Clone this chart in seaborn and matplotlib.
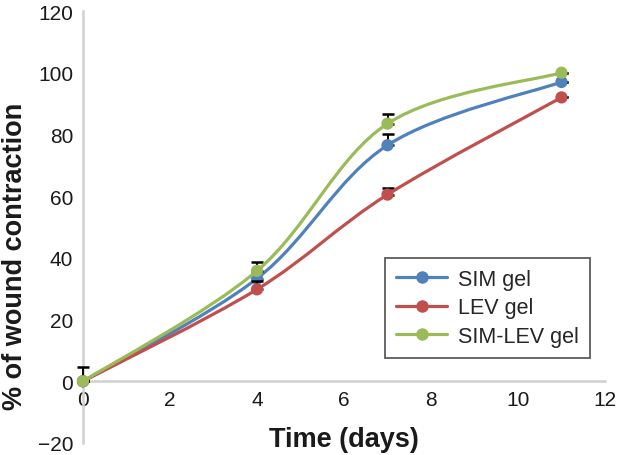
import numpy as np
import pandas as pd
import matplotlib
matplotlib.use("Agg")
import matplotlib.pyplot as plt
import seaborn as sns
from matplotlib.path import Path
from matplotlib.patches import PathPatch
from matplotlib.lines import Line2D

# ---- data ----
days = [0, 4, 7, 11]
sim_gel = [0, 33.3, 76.5, 97]
lev_gel = [0, 29.8, 60.5, 92]
simlev_gel = [0, 35.8, 83.5, 100]
sim_err = [0, 2.0, 3.5, 0]
lev_err = [0, 2.8, 2.0, 0]
simlev_err = [4.5, 2.7, 3.0, 0]
series_names = ["SIM gel", "LEV gel", "SIM-LEV gel"]
colors = ["#4F81BD", "#C0504D", "#9BBB59"]
x_ticks = [0, 2, 4, 6, 8, 10, 12]
y_ticks = [-20, 0, 20, 40, 60, 80, 100, 120]

sns.set_theme(style="white")
plt.rcParams['font.family'] = ['Liberation Sans', 'DejaVu Sans']

fig = plt.figure(figsize=(6.18, 4.56), dpi=100)
ax = fig.add_axes([83/618, 12/456, 522/618, 432/456])


def smooth_path(xs, ys):
    pts = np.column_stack([xs, ys]).astype(float)
    n = len(pts)
    verts = [pts[0]]
    codes = [Path.MOVETO]
    for i in range(n - 1):
        p0 = pts[i - 1] if i > 0 else pts[i]
        p1 = pts[i]
        p2 = pts[i + 1]
        p3 = pts[i + 2] if i + 2 < n else pts[i + 1]
        c1 = p1 + (p2 - p0) / 6.0
        c2 = p2 - (p3 - p1) / 6.0
        verts += [c1, c2, p2]
        codes += [Path.CURVE4] * 3
    return Path(verts, codes)


all_vals = [sim_gel, lev_gel, simlev_gel]
all_errs = [sim_err, lev_err, simlev_err]
handles = []
for k, (name, vals, errs, c) in enumerate(zip(series_names, all_vals, all_errs, colors)):
    z = 3 + k * 3
    ax.errorbar(days, vals, yerr=[np.zeros(len(errs)), errs], fmt='none',
                ecolor='black', elinewidth=1.4, capsize=4, capthick=1.8,
                zorder=z - 0.5, clip_on=False)
    patch = PathPatch(smooth_path(days, vals), facecolor='none', edgecolor=c,
                      lw=2.3, zorder=z, clip_on=False)
    ax.add_patch(patch)
    df = pd.DataFrame({"day": days, "val": vals})
    sns.scatterplot(data=df, x="day", y="val", color=c, s=78, edgecolor='none',
                    ax=ax, zorder=z + 1, clip_on=False, legend=False)
    handles.append(Line2D([0], [0], color=c, lw=2.3, marker='o', markersize=9,
                          markeredgewidth=0, label=name))

ax.set_xlim(0, 12)
ax.set_ylim(-20, 120)
ax.set_xticks(x_ticks)
ax.set_yticks(y_ticks)
ax.set_xticklabels([str(t) for t in x_ticks])
ax.set_yticklabels([("\u2212" + str(-t)) if t < 0 else str(t) for t in y_ticks])

for s in ["top", "right"]:
    ax.spines[s].set_visible(False)
ax.spines["bottom"].set_position(("data", 0))
for s in ["left", "bottom"]:
    ax.spines[s].set_color("#d0d0d0")
    ax.spines[s].set_linewidth(1.8)
    ax.spines[s].set_zorder(1)

ax.tick_params(axis='both', length=0, labelsize=15, colors='#1a1a1a')
ax.tick_params(axis='x', pad=6)
ax.tick_params(axis='y', pad=7)
ax.grid(False)

ax.set_xlabel("Time (days)", fontsize=19.5, fontweight='bold', color='#1a1a1a')
ax.xaxis.set_label_coords(0.5, 0.040)
ax.xaxis.label.set_va('top')
ax.set_ylabel("% of wound contraction", fontsize=19.5, fontweight='bold', color='#1a1a1a')
ax.yaxis.label.set_va('center')
ax.yaxis.set_label_coords(-0.130, 0.435)

leg = ax.legend(handles=handles, loc='upper left', bbox_to_anchor=(385/618, (456-259)/456),
                bbox_transform=fig.transFigure, fontsize=15.5, frameon=True, fancybox=False,
                handlelength=2.4, handletextpad=0.5, borderpad=0.5, labelspacing=0.35,
                borderaxespad=0)
leg.get_frame().set_edgecolor('#333333')
leg.get_frame().set_linewidth(1.3)
leg.set_zorder(20)

fig.savefig("out.png", dpi=100)
